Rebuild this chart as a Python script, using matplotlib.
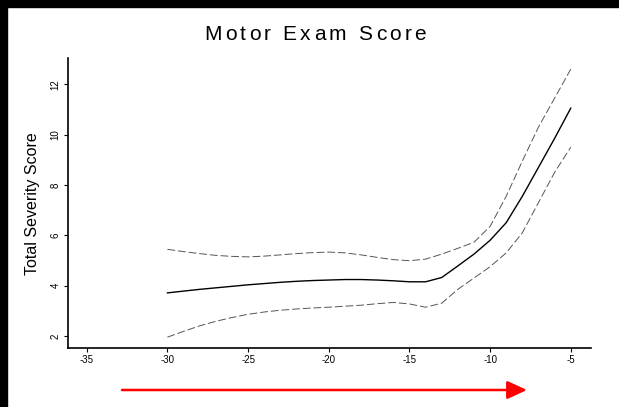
import numpy as np
import matplotlib
matplotlib.use("Agg")
import matplotlib.pyplot as plt
from matplotlib.patches import Rectangle

plt.rcParams['font.family'] = ['Liberation Sans', 'DejaVu Sans']

# years relative to onset
time_pts = [-30, -29, -28, -27, -26, -25, -24, -23, -22, -21, -20, -19, -18,
            -17, -16, -15, -14, -13, -12, -11, -10, -9, -8, -7, -6, -5]
fit = [3.71, 3.78, 3.85, 3.91, 3.97, 4.03, 4.08, 4.13, 4.17, 4.20, 4.22, 4.24, 4.24,
       4.22, 4.19, 4.15, 4.15, 4.32, 4.78, 5.25, 5.80, 6.50, 7.55, 8.70, 9.85, 11.05]
upper = [5.44, 5.35, 5.27, 5.20, 5.16, 5.14, 5.17, 5.22, 5.27, 5.31, 5.33, 5.30, 5.22,
         5.12, 5.03, 4.99, 5.05, 5.25, 5.48, 5.72, 6.35, 7.55, 8.95, 10.30, 11.45, 12.60]
lower = [1.95, 2.18, 2.40, 2.58, 2.73, 2.86, 2.95, 3.02, 3.07, 3.11, 3.14, 3.18, 3.22,
         3.28, 3.33, 3.27, 3.14, 3.30, 3.85, 4.30, 4.75, 5.30, 6.10, 7.30, 8.50, 9.50]

xticks = [-35, -30, -25, -20, -15, -10, -5]
yticks = [2, 4, 6, 8, 10, 12]
title = 'Motor Exam Score'

fig = plt.figure(figsize=(6.19, 4.07), dpi=100)
ax = fig.add_axes([0.1094, 0.145, 0.845, 0.7117])

ax.plot(time_pts, fit, color='black', lw=1.0)
for band in (upper, lower):
    ax.plot(time_pts, band, color='#555555', lw=0.7, dashes=(8, 3))

ax.set_xlim(-36.18, -3.76)
ax.set_ylim(1.52, 13.03)
ax.set_xticks(xticks)
ax.set_xticklabels([str(t) for t in xticks])
ax.set_yticks(yticks)
ax.set_yticklabels([str(t) for t in yticks], rotation=90, va='center')

for side in ('top', 'right'):
    ax.spines[side].set_visible(False)
for side in ('left', 'bottom'):
    ax.spines[side].set_linewidth(1.2)
ax.tick_params(axis='both', length=3, width=0.8, labelsize=7, pad=2, colors='black')

ax.set_ylabel('Total Severity Score', fontsize=11.5, labelpad=8)

# title with wide letter spacing, drawn one glyph at a time
renderer = fig.canvas.get_renderer()
tracking = 3.3  # extra pixels between glyphs
glyphs = []
total = 0.0
for ch in title:
    t = fig.text(0, 0, ch, fontsize=15, va='center', ha='left')
    w = t.get_window_extent(renderer).width if ch != ' ' else 5.5
    glyphs.append((t, w))
    total += w + tracking
total -= tracking
x0 = 315 - total / 2
for t, w in glyphs:
    t.set_position((x0 / 619, 1 - 34 / 407))
    x0 += w + tracking

# direction arrow under the axis
ax.annotate('', xy=(527 / 619, 17 / 407), xytext=(122 / 619, 17 / 407),
            xycoords='figure fraction', textcoords='figure fraction',
            arrowprops=dict(arrowstyle='-|>,head_length=1.2,head_width=0.55',
                            color='red', lw=1.8, shrinkA=0, shrinkB=0))

# dark frame on left and top edges
fig.patches.append(Rectangle((0, 0), 7 / 619, 1, transform=fig.transFigure,
                             color='black', zorder=10))
fig.patches.append(Rectangle((0, 1 - 7 / 407), 1, 7 / 407, transform=fig.transFigure,
                             color='black', zorder=10))

fig.savefig('out.png', dpi=100)
